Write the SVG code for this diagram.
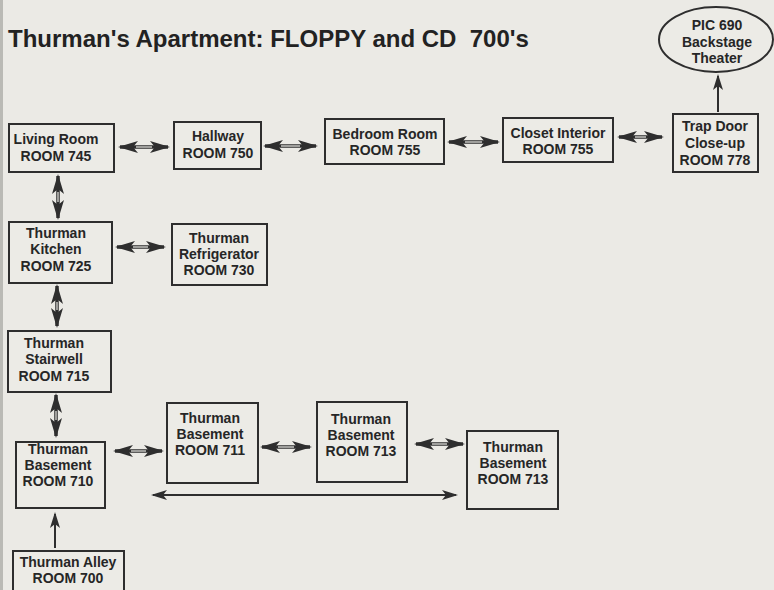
<svg xmlns="http://www.w3.org/2000/svg" width="774" height="590" viewBox="0 0 774 590">
<style>
.bg{fill:#ebeae5}
.box{fill:#ecebe6;stroke:#2e2e2e;stroke-width:2}
.t{font-family:"Liberation Sans",Arial,Helvetica,sans-serif;font-weight:bold;font-size:14px;fill:#262626;text-anchor:middle}
.title{font-family:"Liberation Sans",Arial,Helvetica,sans-serif;font-weight:bold;font-size:24px;fill:#222;white-space:pre}
.shaft{stroke:#2e2e2e;stroke-width:3.5;fill:none}
.inner{stroke:#ecebe6;stroke-width:1.2;fill:none}
.thin{stroke:#2e2e2e;stroke-width:2;fill:none}
</style>
<defs>
<marker id="ah" viewBox="0 0 20 12" refX="18" refY="6" markerWidth="20" markerHeight="12" markerUnits="userSpaceOnUse" orient="auto-start-reverse">
<path d="M0,0 L20,6 L0,12 L5,6 Z" fill="#2e2e2e"/>
</marker>
<marker id="ah2" viewBox="0 0 16 10" refX="14" refY="5" markerWidth="16" markerHeight="10" markerUnits="userSpaceOnUse" orient="auto-start-reverse">
<path d="M0,0 L16,5 L0,10 L4,5 Z" fill="#2e2e2e"/>
</marker>
</defs>
<rect class="bg" x="0" y="0" width="774" height="590"/>
<rect x="0" y="0" width="3" height="590" fill="#9a9994" opacity="0.6"/>
<text class="title" x="8" y="47">Thurman's Apartment: FLOPPY and CD  700's</text>

<g id="connectors">
<line class="shaft" x1="120" y1="147" x2="168" y2="147" marker-start="url(#ah)" marker-end="url(#ah)"/>
<line class="inner" x1="136" y1="147" x2="152" y2="147"/>
<line class="shaft" x1="265" y1="146" x2="316" y2="146" marker-start="url(#ah)" marker-end="url(#ah)"/>
<line class="inner" x1="281" y1="146" x2="300" y2="146"/>
<line class="shaft" x1="449" y1="142" x2="498" y2="142" marker-start="url(#ah)" marker-end="url(#ah)"/>
<line class="inner" x1="465" y1="142" x2="482" y2="142"/>
<line class="shaft" x1="619" y1="137" x2="662" y2="137" marker-start="url(#ah)" marker-end="url(#ah)"/>
<line class="inner" x1="635" y1="137" x2="646" y2="137"/>
<line class="thin" x1="718" y1="112" x2="718" y2="76" marker-end="url(#ah2)"/>
<line class="shaft" x1="58" y1="176" x2="58" y2="218" marker-start="url(#ah)" marker-end="url(#ah)"/>
<line class="inner" x1="58" y1="192" x2="58" y2="202"/>
<line class="shaft" x1="117" y1="247" x2="164" y2="247" marker-start="url(#ah)" marker-end="url(#ah)"/>
<line class="inner" x1="133" y1="247" x2="148" y2="247"/>
<line class="shaft" x1="57" y1="286" x2="57" y2="326" marker-start="url(#ah)" marker-end="url(#ah)"/>
<line class="inner" x1="57" y1="302" x2="57" y2="310"/>
<line class="shaft" x1="56" y1="395" x2="56" y2="436" marker-start="url(#ah)" marker-end="url(#ah)"/>
<line class="inner" x1="56" y1="411" x2="56" y2="420"/>
<line class="thin" x1="55" y1="548" x2="55" y2="514" marker-end="url(#ah2)"/>
<line class="shaft" x1="115" y1="451" x2="162" y2="451" marker-start="url(#ah)" marker-end="url(#ah)"/>
<line class="inner" x1="131" y1="451" x2="146" y2="451"/>
<line class="shaft" x1="262" y1="447" x2="310" y2="447" marker-start="url(#ah)" marker-end="url(#ah)"/>
<line class="inner" x1="278" y1="447" x2="294" y2="447"/>
<line class="shaft" x1="416" y1="444" x2="463" y2="444" marker-start="url(#ah)" marker-end="url(#ah)"/>
<line class="inner" x1="432" y1="444" x2="447" y2="444"/>
<line class="thin" x1="153" y1="495" x2="456" y2="495" marker-start="url(#ah2)" marker-end="url(#ah2)"/>
</g>

<g id="n-pic690">
<ellipse cx="716" cy="39.5" rx="57" ry="32.5" fill="#ecebe6" stroke="#2e2e2e" stroke-width="2"/>
<text class="t" x="717" y="30">PIC 690</text>
<text class="t" x="717" y="47">Backstage</text>
<text class="t" x="717" y="63">Theater</text>
</g>
<g id="n-745">
<rect class="box" x="9" y="124" width="105" height="48"/>
<text class="t" x="56" y="144">Living Room</text>
<text class="t" x="56" y="161">ROOM 745</text>
</g>
<g id="n-750">
<rect class="box" x="174" y="122" width="87" height="47"/>
<text class="t" x="218" y="141">Hallway</text>
<text class="t" x="218" y="158">ROOM 750</text>
</g>
<g id="n-755a">
<rect class="box" x="325" y="119" width="119" height="45"/>
<text class="t" x="385" y="139">Bedroom Room</text>
<text class="t" x="385" y="155">ROOM 755</text>
</g>
<g id="n-755b">
<rect class="box" x="503" y="118" width="110" height="44"/>
<text class="t" x="558" y="138">Closet Interior</text>
<text class="t" x="558" y="154">ROOM 755</text>
</g>
<g id="n-778">
<rect class="box" x="673" y="114" width="85" height="58"/>
<text class="t" x="715" y="131">Trap Door</text>
<text class="t" x="715" y="148">Close-up</text>
<text class="t" x="715" y="165">ROOM 778</text>
</g>
<g id="n-725">
<rect class="box" x="9" y="222" width="103" height="61"/>
<text class="t" x="56" y="238">Thurman</text>
<text class="t" x="56" y="254">Kitchen</text>
<text class="t" x="56" y="271">ROOM 725</text>
</g>
<g id="n-730">
<rect class="box" x="172" y="224" width="95" height="61"/>
<text class="t" x="219" y="243">Thurman</text>
<text class="t" x="219" y="259">Refrigerator</text>
<text class="t" x="219" y="275">ROOM 730</text>
</g>
<g id="n-715">
<rect class="box" x="8" y="331" width="103" height="61"/>
<text class="t" x="54" y="348">Thurman</text>
<text class="t" x="54" y="364">Stairwell</text>
<text class="t" x="54" y="381">ROOM 715</text>
</g>
<g id="n-710">
<rect class="box" x="16" y="442" width="89" height="66"/>
<text class="t" x="58" y="454">Thurman</text>
<text class="t" x="58" y="470">Basement</text>
<text class="t" x="58" y="486">ROOM 710</text>
</g>
<g id="n-700">
<rect class="box" x="13" y="551" width="111" height="40"/>
<text class="t" x="68" y="567">Thurman Alley</text>
<text class="t" x="68" y="583">ROOM 700</text>
</g>
<g id="n-711">
<rect class="box" x="167" y="403" width="91" height="80"/>
<text class="t" x="210" y="423">Thurman</text>
<text class="t" x="210" y="439">Basement</text>
<text class="t" x="210" y="455">ROOM 711</text>
</g>
<g id="n-713a">
<rect class="box" x="317" y="402" width="90" height="80"/>
<text class="t" x="361" y="424">Thurman</text>
<text class="t" x="361" y="440">Basement</text>
<text class="t" x="361" y="456">ROOM 713</text>
</g>
<g id="n-713b">
<rect class="box" x="467" y="431" width="91" height="78"/>
<text class="t" x="513" y="452">Thurman</text>
<text class="t" x="513" y="468">Basement</text>
<text class="t" x="513" y="484">ROOM 713</text>
</g>
</svg>
